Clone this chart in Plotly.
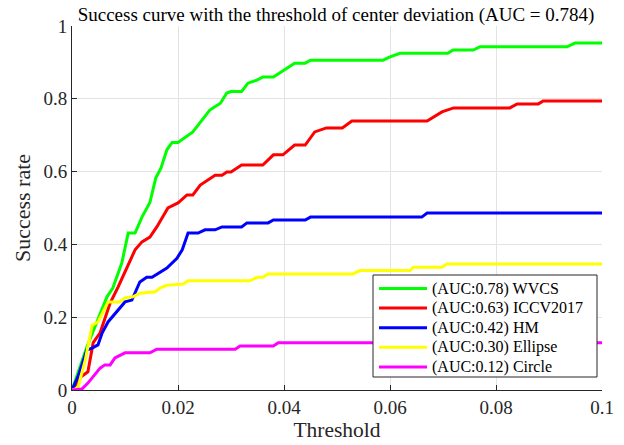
import plotly.graph_objects as go

# ---- data ----
wvcs_x = [0, 0.0028, 0.0066, 0.0077, 0.0094, 0.0106, 0.0119, 0.0132, 0.0147, 0.0158, 0.0168, 0.0179,
          0.0189, 0.0200, 0.0228, 0.026, 0.028, 0.0292, 0.030, 0.032, 0.0332, 0.035, 0.036, 0.038,
          0.042, 0.044, 0.045, 0.0587, 0.060, 0.0619, 0.0709, 0.0719, 0.0757, 0.077, 0.0934, 0.0949, 0.1]
wvcs_y = [0, 0.118, 0.256, 0.28, 0.349, 0.431, 0.431, 0.475, 0.515, 0.582, 0.61, 0.66,
          0.68, 0.68, 0.709, 0.769, 0.788, 0.816, 0.82, 0.82, 0.843, 0.852, 0.86, 0.86,
          0.898, 0.898, 0.906, 0.906, 0.915, 0.925, 0.925, 0.934, 0.934, 0.943, 0.943, 0.953, 0.953]

iccv_x = [0, 0.0017, 0.003, 0.004, 0.0053, 0.0072, 0.0087, 0.0106, 0.0119, 0.0132, 0.0147, 0.016,
          0.0181, 0.020, 0.0217, 0.0228, 0.0242, 0.027, 0.0283, 0.0292, 0.030, 0.032, 0.036, 0.038,
          0.0398, 0.042, 0.044, 0.0458, 0.048, 0.051, 0.0528, 0.067, 0.0698, 0.072, 0.0826, 0.084,
          0.088, 0.0889, 0.1]
iccv_y = [0, 0.036, 0.05, 0.13, 0.157, 0.239, 0.283, 0.343, 0.385, 0.407, 0.42, 0.448,
          0.5, 0.514, 0.536, 0.536, 0.563, 0.59, 0.59, 0.599, 0.599, 0.618, 0.618, 0.646,
          0.646, 0.673, 0.673, 0.709, 0.72, 0.72, 0.739, 0.739, 0.764, 0.775, 0.775, 0.786,
          0.786, 0.794, 0.794]

hm_x = [0, 0.0011, 0.0028, 0.0038, 0.0049, 0.0057, 0.0068, 0.0081, 0.010, 0.0113, 0.0128, 0.0141,
        0.0151, 0.0179, 0.0198, 0.0208, 0.0219, 0.0238, 0.0251, 0.027, 0.0283, 0.032, 0.033, 0.037,
        0.038, 0.044, 0.045, 0.066, 0.067, 0.1]
hm_y = [0, 0.036, 0.11, 0.115, 0.124, 0.157, 0.187, 0.21, 0.242, 0.247, 0.297, 0.31,
        0.31, 0.335, 0.362, 0.385, 0.431, 0.431, 0.44, 0.44, 0.448, 0.448, 0.459, 0.459,
        0.467, 0.467, 0.475, 0.475, 0.486, 0.486]

ell_x = [0, 0.0011, 0.0025, 0.0038, 0.0049, 0.0068, 0.009, 0.010, 0.0115, 0.0128, 0.0157, 0.0166,
         0.0179, 0.021, 0.0219, 0.0336, 0.035, 0.036, 0.037, 0.053, 0.0543, 0.0638, 0.0644, 0.0698,
         0.0707, 0.1]
ell_y = [0, 0.005, 0.082, 0.178, 0.187, 0.242, 0.242, 0.253, 0.256, 0.266, 0.27, 0.28,
         0.288, 0.291, 0.3, 0.3, 0.31, 0.31, 0.319, 0.319, 0.328, 0.328, 0.337, 0.337,
         0.346, 0.346]

cir_x = [0, 0.0019, 0.003, 0.0043, 0.0053, 0.0062, 0.0072, 0.0081, 0.010, 0.0147, 0.016, 0.0308,
         0.0317, 0.038, 0.0389, 0.1]
cir_y = [0, 0.003, 0.019, 0.041, 0.06, 0.069, 0.069, 0.088, 0.102, 0.102, 0.112, 0.112,
         0.121, 0.121, 0.13, 0.13]

names = ["(AUC:0.78) WVCS", "(AUC:0.63) ICCV2017", "(AUC:0.42) HM",
         "(AUC:0.30) Ellipse", "(AUC:0.12) Circle"]
colors = ["#00ff00", "#ff0000", "#0000ff", "#ffff00", "#ff00ff"]
series = [(wvcs_x, wvcs_y), (iccv_x, iccv_y), (hm_x, hm_y), (ell_x, ell_y), (cir_x, cir_y)]

x_ticks = [0, 0.02, 0.04, 0.06, 0.08, 0.1]
x_tick_labels = ["0", "0.02", "0.04", "0.06", "0.08", "0.1"]
y_ticks = [0, 0.2, 0.4, 0.6, 0.8, 1]
y_tick_labels = ["0", "0.2", "0.4", "0.6", "0.8", "1"]

FONT = "Liberation Serif"
W, H = 624, 445
ML, MR, MT, MB = 72, 22, 26, 55
PW, PH = W - ML - MR, H - MT - MB


def px_to_paper_x(px):
    return (px - ML) / PW


def px_to_paper_y(py):
    return (H - MB - py) / PH


fig = go.Figure()
for (xs, ys), n, c in zip(series, names, colors):
    fig.add_trace(go.Scatter(x=xs, y=ys, mode="lines", name=n, showlegend=False,
                             line=dict(color=c, width=3)))

# MATLAB-style legend box (layout decoration in paper coordinates)
box_l, box_r, box_t, box_b = 373, 597, 275, 377
row_top, row_gap = 288.5, 19.6
shapes = [dict(type="rect", xref="paper", yref="paper",
               x0=px_to_paper_x(box_l), x1=px_to_paper_x(box_r),
               y0=px_to_paper_y(box_b), y1=px_to_paper_y(box_t),
               fillcolor="white", line=dict(color="#262626", width=1), layer="above")]
annotations = []
for i, (n, c) in enumerate(zip(names, colors)):
    yc = px_to_paper_y(row_top + i * row_gap)
    shapes.append(dict(type="line", xref="paper", yref="paper",
                       x0=px_to_paper_x(379), x1=px_to_paper_x(427), y0=yc, y1=yc,
                       line=dict(color=c, width=3), layer="above"))
    annotations.append(dict(text=n, xref="paper", yref="paper", x=px_to_paper_x(430), y=yc,
                            xanchor="left", yanchor="middle", showarrow=False,
                            font=dict(family=FONT, size=16, color="#000000")))

axis_common = dict(showgrid=True, gridcolor="#e3e3e3", gridwidth=1,
                   showline=True, linecolor="#262626", linewidth=1,
                   ticks="inside", ticklen=5, tickcolor="#262626",
                   zeroline=False, automargin=False,
                   tickfont=dict(family=FONT, size=19, color="#262626"))

fig.update_layout(
    width=W, height=H,
    margin=dict(l=ML, r=MR, t=MT, b=MB, autoexpand=False),
    paper_bgcolor="white", plot_bgcolor="white",
    font=dict(family=FONT, color="#262626"),
    title=dict(text="Success curve with the threshold of center deviation (AUC = 0.784)",
               x=0.5385, xanchor="center", yref="container", y=0.9685, yanchor="middle",
               font=dict(family=FONT, size=19, color="#000000"), automargin=False),
    xaxis=dict(range=[0, 0.1], tickvals=x_ticks, ticktext=x_tick_labels,
               title=dict(text="Threshold", font=dict(family=FONT, size=21.5, color="#262626"), standoff=5),
               **axis_common),
    yaxis=dict(range=[0, 1], tickvals=y_ticks, ticktext=y_tick_labels,
               title=dict(text="Success rate", font=dict(family=FONT, size=22, color="#262626"), standoff=6),
               **axis_common),
    shapes=shapes,
    annotations=annotations,
    showlegend=False,
)

fig.write_html("out.html", config={"displayModeBar": False},
               post_script="document.body.style.margin='0';document.body.style.padding='0';")
